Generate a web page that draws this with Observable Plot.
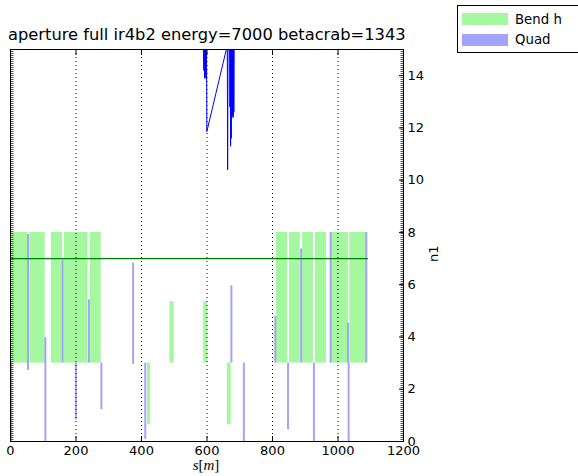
<!DOCTYPE html>
<html>
<head>
<meta charset="utf-8">
<script src="https://cdn.jsdelivr.net/npm/d3@7"></script>
<script src="https://cdn.jsdelivr.net/npm/@observablehq/plot@0.6"></script>
<style>
  html, body { margin: 0; padding: 0; background: white; }
  body { width: 578px; height: 476px; overflow: hidden; position: relative; font-family: "DejaVu Sans", sans-serif; }
  #chart { position: absolute; left: 0; top: 0; }
  #title { position: absolute; left: 8px; top: 26.5px; font-size: 16.3px; line-height: 16px; white-space: nowrap; color: black; }
  #xlabel { position: absolute; left: 206px; top: 458px; transform: translateX(-50%); font-family: "Liberation Serif", "DejaVu Serif", serif; font-size: 15px; line-height: 15px; white-space: nowrap; }
  #legend { position: absolute; left: 457px; top: 5px; width: 130px; height: 48px; border: 1px solid #000; background: white; box-sizing: border-box; }
  .lg-row { position: absolute; left: 4px; height: 12px; display: flex; align-items: center; }
  .lg-patch { width: 46px; height: 12px; }
  .lg-text { margin-left: 7px; font-size: 13.3px; line-height: 13px; white-space: nowrap; }
</style>
</head>
<body>
<div id="chart"></div>
<div id="title"></div>
<div id="xlabel"><i>s</i>[<i>m</i>]</div>
<div id="legend"></div>
<script>
// ---------- data ----------
const titleText = "aperture full ir4b2 energy=7000 betacrab=1343";
const legendLabels = ["Bend h", "Quad"];
const bendColor = "#a5f7a0";
const quadColor = "#a3a3fa";

// bends: start s, end s, lower n1, upper n1
const bendStart = [5, 59, 125, 165, 244, 418, 487, 590, 662, 812, 852, 892, 931, 977, 1036];
const bendEnd   = [54, 106, 159, 237, 277, 428, 500, 602, 674, 846, 885, 925, 965, 1032, 1089];
const bendLow   = [3, 3, 3, 3, 3, 0.64, 3, 3, 0.64, 3, 3, 3, 3, 3, 3];
const bendHigh  = [8, 8, 8, 8, 8, 3, 5.35, 5.35, 3, 8, 8, 8, 8, 8, 8];

// quads: start s, end s, lower, upper
const quadStart = [0, 52, 105, 158, 198, 238, 276, 373, 410, 673, 711, 807, 846, 886, 925, 976, 1029, 1031, 1085];
const quadEnd   = [6, 58, 111, 164, 204, 244, 282, 379, 416, 679, 717, 813, 852, 892, 931, 982, 1035, 1037, 1091];
const quadLow   = [0, 2.72, 0, 3, 0.83, 3, 1.22, 2.95, 0.08, 3, 0, 3, 0.45, 3, 0, 3, 3, 0, 3];
const quadHigh  = [3, 7.92, 3.97, 6.95, 3, 5.42, 3, 6.83, 3, 5.96, 3, 4.78, 3, 7.37, 3, 8, 4.53, 3, 8];

// aperture n1 line (values capped at plot top 15)
const apS  = [0, 589, 590.5, 591.5, 592.5, 593.5, 594.5, 595.5, 596.5, 597.5, 598.5, 599.5, 659, 662, 663, 664, 665, 669, 670, 671, 672, 673, 674, 675, 676, 677, 678, 679, 680, 681, 682, 683, 684, 1090];
const apN1 = [15, 15, 14.2, 15, 13.9, 15, 14.0, 15, 13.9, 15, 15, 11.86, 15, 15, 10.4, 15, 15, 15, 12.8, 15, 11.3, 15, 11.6, 15, 12.4, 15, 12.5, 15, 12.4, 15, 12.6, 15, 15, 15];

// reference level line
const refS  = [0, 1090];
const refN1 = [7, 7];

const xTicks = [0, 200, 400, 600, 800, 1000, 1200];
const gridX  = [200, 400, 600, 800, 1000];
const yTicks = [0, 2, 4, 6, 8, 10, 12, 14];

// ---------- tables ----------
const bends = bendStart.map((s, i) => ({s1: s, s2: bendEnd[i], y1: bendLow[i], y2: bendHigh[i]}));
const quads = quadStart.map((s, i) => ({s1: s, s2: quadEnd[i], y1: quadLow[i], y2: quadHigh[i]}));
const aperture = apS.map((s, i) => ({s, n1: apN1[i]}));
const ref = refS.map((s, i) => ({s, n1: refN1[i]}));

const chart = Plot.plot({
  width: 578,
  height: 476,
  marginLeft: 10,
  marginRight: 175,
  marginTop: 49,
  marginBottom: 35,
  style: {fontFamily: "DejaVu Sans, sans-serif", fontSize: "13px", background: "white", color: "black"},
  x: {domain: [0, 1200]},
  y: {domain: [0, 15]},
  marks: [
    Plot.rect(bends, {x1: "s1", x2: "s2", y1: "y1", y2: "y2", fill: bendColor}),
    Plot.rect(quads, {x1: "s1", x2: "s2", y1: "y1", y2: "y2", fill: quadColor}),
    Plot.ruleX(gridX, {stroke: "black", strokeWidth: 1, strokeDasharray: "1,3"}),
    Plot.line(ref, {x: "s", y: "n1", stroke: "#008000", strokeWidth: 1.3}),
    Plot.line(aperture, {x: "s", y: "n1", stroke: "#0000ff", strokeWidth: 1, clip: true}),
    // dense minor ticks along the side spines
    Plot.ruleX([d3.min(xTicks)], {stroke: "#555", strokeWidth: 3, dx: 1.5, strokeDasharray: "1,1"}),
    Plot.ruleX([d3.max(xTicks)], {stroke: "#555", strokeWidth: 3, dx: -1.5, strokeDasharray: "1,1"}),
    Plot.frame({stroke: "black", strokeWidth: 1}),
    Plot.axisX({anchor: "bottom", ticks: xTicks, tickSize: -5, tickPadding: 9, tickFormat: d3.format("d"), label: null, fontSize: 13}),
    Plot.axisX({anchor: "top", ticks: xTicks, tickSize: -5, tickFormat: () => "", label: null}),
    Plot.axisY({anchor: "right", ticks: yTicks, tickSize: -5, tickPadding: 9, tickFormat: d3.format("d"), label: null, fontSize: 13}),
    Plot.text(["n1"], {frameAnchor: "right", dx: 30, rotate: -90, fontSize: 13})
  ]
});
document.getElementById("chart").appendChild(chart);
document.getElementById("title").textContent = titleText;

const legend = document.getElementById("legend");
const colors = [bendColor, quadColor];
legendLabels.forEach((lab, i) => {
  const row = document.createElement("div");
  row.className = "lg-row";
  row.style.top = (7 + i * 20.5) + "px";
  const p = document.createElement("div");
  p.className = "lg-patch";
  p.style.background = colors[i];
  const t = document.createElement("div");
  t.className = "lg-text";
  t.textContent = lab;
  row.appendChild(p);
  row.appendChild(t);
  legend.appendChild(row);
});
</script>
</body>
</html>
